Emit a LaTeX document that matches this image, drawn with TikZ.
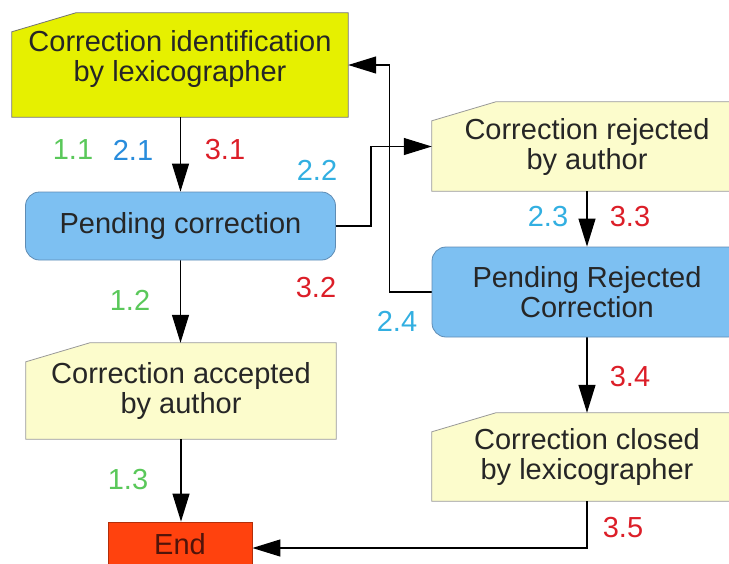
\documentclass[tikz,border=0pt]{standalone}
\usepackage{fontspec}
\setmainfont{Liberation Sans}
\usetikzlibrary{arrows.meta}
\pgfdeclarelayer{edgelayer}
\pgfdeclarelayer{nodelayer}
\pgfsetlayers{edgelayer,nodelayer,main}
\definecolor{lexyellow}{RGB}{230,240,0}
\definecolor{paleyellow}{RGB}{252,252,204}
\definecolor{pendblue}{RGB}{125,192,242}
\definecolor{pendborder}{RGB}{95,140,180}
\definecolor{endred}{RGB}{255,66,14}
\definecolor{endtext}{RGB}{80,20,10}
\definecolor{numgreen}{RGB}{90,200,90}
\definecolor{numblue}{RGB}{40,140,220}
\definecolor{numcyan}{RGB}{50,175,225}
\definecolor{numred}{RGB}{220,30,40}
\tikzset{font=\fontsize{29}{30}\selectfont}
\tikzstyle{none}=[inner sep=0pt]
\tikzstyle{card}=[align=center, inner sep=0pt, minimum width=310pt, minimum height=88pt, text=black!85]
\tikzstyle{pending}=[align=center, draw=pendborder, fill=pendblue, line width=0.8pt, rounded corners=14pt, minimum width=310pt, text=black!85]
\tikzstyle{finish}=[draw=endred!70!black, fill=endred, line width=0.8pt, minimum width=144pt, minimum height=52pt, text=endtext]
\tikzstyle{num}=[inner sep=0pt, font=\fontsize{29}{30}\selectfont]
\tikzstyle{flow}=[line width=1.2pt, -{Triangle[length=28pt,width=17pt]}]
% card outline with the cut top left corner
\newcommand{\cardshape}[2]{\filldraw[#2, line width=0.8pt] ([yshift=-19pt]#1.north west) -- ([xshift=64pt]#1.north west) -- (#1.north east) -- (#1.south east) -- (#1.south west) -- cycle;}

\begin{document}
\begin{tikzpicture}[x=1pt, y=-1pt]
	\path[use as bounding box] (0, 0) rectangle (729, 563);
	\begin{pgfonlayer}{nodelayer}
		\node [style=card, minimum width=336pt, minimum height=104pt, text depth=19pt] (0) at (180, 65) {Correction identification\\by lexicographer};
		\node [style=pending, minimum height=68pt] (1) at (180.5, 226) {Pending correction};
		\node [style=card, minimum height=89pt] (2) at (587, 146.5) {Correction rejected\\by author};
		\node [style=pending, minimum height=90pt] (3) at (587, 292) {Pending Rejected\\Correction};
		\node [style=card, minimum height=96pt] (4) at (181, 391) {Correction accepted\\by author};
		\node [style=card, minimum height=88pt] (5) at (587, 457) {Correction closed\\by lexicographer};
		\node [style=finish, text depth=9pt] (6) at (180, 548) {End};
		\node [style=num, text=numgreen] (l11) at (73, 150) {1.1};
		\node [style=num, text=numblue] (l21) at (133, 150) {2.1};
		\node [style=num, text=numred] (l31) at (225, 150) {3.1};
		\node [style=num, text=numcyan] (l22) at (317, 170) {2.2};
		\node [style=num, text=numred] (l32) at (316, 288) {3.2};
		\node [style=num, text=numgreen] (l12) at (130, 300) {1.2};
		\node [style=num, text=numgreen] (l13) at (128, 480) {1.3};
		\node [style=num, text=numcyan] (l23) at (548, 217) {2.3};
		\node [style=num, text=numred] (l33) at (630, 217) {3.3};
		\node [style=num, text=numcyan] (l24) at (397, 321) {2.4};
		\node [style=num, text=numred] (l34) at (630, 377) {3.4};
		\node [style=num, text=numred] (l35) at (623, 528) {3.5};
	\end{pgfonlayer}
	\begin{pgfonlayer}{edgelayer}
		\cardshape{0}{draw=black!55, fill=lexyellow}
		\cardshape{2}{draw=black!40, fill=paleyellow}
		\cardshape{4}{draw=black!40, fill=paleyellow}
		\cardshape{5}{draw=black!40, fill=paleyellow}
		\draw [style=flow] (0.south -| 1.north) to (1.north);
		\draw [style=flow] (1.east) -- ++(35, 0) |- (2.west);
		\draw [style=flow] (3.west) -- ++(-42, 0) |- (0.east);
		\draw [style=flow] (2.south) to (3.north);
		\draw [style=flow] (1.south) to (1.south |- 4.north);
		\draw [style=flow] (4.south) to (4.south |- 6.north);
		\draw [style=flow] (3.south) to (5.north);
		\draw [style=flow] (5.south) |- (6.east);
	\end{pgfonlayer}
\end{tikzpicture}
\end{document}
